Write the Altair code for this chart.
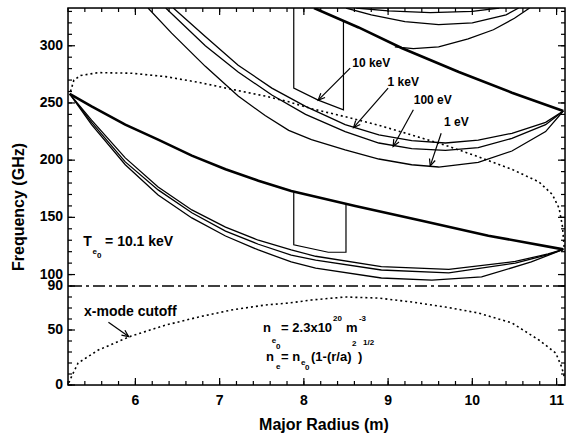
import math
import altair as alt
import pandas as pd

# ---------------- values ----------------
# cold resonance, 1st harmonic (thick)
h1_R = [5.22, 5.48, 5.88, 6.27, 6.67, 7.07, 7.46, 7.85, 8.61, 9.40, 10.19, 11.08]
h1_f = [258, 247, 231, 218, 204, 192, 182, 173, 160, 147, 134, 122]
# cold resonance, 2nd harmonic (thick)
h2_R = [8.12, 8.65, 9.16, 9.84, 10.47, 11.08]
h2_f = [333, 316, 298, 277, 259, 243]

# 1st-harmonic group, thin curves
g1_R = [5.22, 5.48, 5.88, 6.27, 6.67, 7.07, 7.46, 7.85, 8.14, 8.92, 9.72, 10.51, 10.90, 11.08]
g1a_f = [258, 235, 202, 176.5, 156.5, 141.5, 130, 121.5, 116, 107, 104.5, 111.5, 118, 122]
g1b_f = [258, 233, 198.5, 174, 154, 138, 126.5, 117, 112.7, 104, 101.5, 110, 117.5, 122]
g1c_R = [5.22, 5.48, 5.88, 6.27, 6.67, 7.07, 7.46, 7.85, 8.14, 8.92, 9.52, 10.11, 10.70, 11.08]
g1c_f = [258, 231, 196, 169.5, 149.5, 133.7, 121.5, 111, 105.7, 97, 95.2, 97.9, 111, 122]

# 2nd-harmonic group, thin curves (1 keV, 100 eV, 1 eV)
c3_R = [6.45, 6.83, 7.22, 7.62, 8.02, 8.49, 8.89, 9.28, 9.68, 10.07, 10.47, 10.87, 11.08]
c3_f = [333, 308, 283, 263, 247, 231, 222, 217, 215, 217.5, 223.5, 233, 243]
c2_R = [6.36, 6.83, 7.22, 7.62, 8.02, 8.49, 8.89, 9.28, 9.68, 10.07, 10.47, 10.87, 11.08]
c2_f = [333, 300, 277, 257, 240, 225, 215, 210, 208.5, 211, 219, 231, 243]
c1_R = [6.15, 6.43, 6.83, 7.22, 7.54, 7.82, 8.09, 8.49, 8.89, 9.28, 9.60, 10.07, 10.47, 10.87, 11.08]
c1_f = [333, 311, 282, 256, 239, 226, 218, 209, 201, 196, 194, 198, 208, 225, 243]

# 3rd-harmonic arcs at the top
a1_R = [8.62, 9.0, 9.5, 10.0, 10.32]
a1_f = [333, 330.5, 329, 330, 333]
a2_R = [8.50, 8.8, 9.2, 9.6, 10.0, 10.4, 10.55]
a2_f = [333, 327, 321, 318.5, 320, 327, 333]
a3_R = [9.08, 9.3, 9.6, 9.95, 10.25, 10.5, 10.68]
a3_f = [299, 297.5, 299, 306, 314, 324, 333]

# 10 keV boxes
b2_R = [7.88, 7.88, 8.17, 8.47, 8.47]
b2_f = [333, 263, 252.5, 244, 321]
b1_R = [7.88, 7.88, 8.29, 8.50, 8.50]
b1_f = [172, 126, 119.5, 119.5, 162]

# dotted cut-off curves
rc_R = [5.23, 5.27, 5.35, 5.56, 5.95, 6.36, 6.75, 7.14, 7.54, 7.82, 8.09, 8.49, 8.89,
        9.28, 9.68, 10.07, 10.47, 10.79, 10.95, 11.03, 11.07, 11.09]
rc_f = [260, 270, 274, 276.5, 276, 273, 268, 262, 256, 251, 245, 238, 230.5,
        222, 213, 203, 192, 181, 170, 158, 142, 124]
xc_R = [5.21, 5.25, 5.32, 5.56, 5.95, 6.36, 6.75, 7.14, 7.54, 7.82, 8.09, 8.49, 8.89,
        9.28, 9.68, 10.07, 10.47, 10.79, 10.99, 11.06, 11.1]
xc_f = [2, 9, 20, 31.8, 44.5, 54.5, 61.8, 68.2, 72.7, 74.5, 77.3, 80, 79,
        75.5, 70.9, 65.5, 56.4, 40.9, 29.1, 16.4, 5]

break_f = [90]

# labels with arrows
lab_text = ["10 keV", "1 keV", "100 eV", "1 eV"]
lab_R = [8.80, 9.18, 9.53, 9.81]
lab_f = [285, 268, 252.5, 233]
arr_R0 = [8.55, 9.00, 9.30, 9.63, 5.68]
arr_f0 = [280.5, 263, 244, 223.5, 57]
arr_R1 = [8.17, 8.59, 9.06, 9.50, 5.92]
arr_f1 = [252.5, 228.5, 212, 195, 44]

# text blocks
txt_text = ["T", "= 10.1 keV", "x-mode cutoff"]
txt_R = [5.38, 5.64, 5.39]
txt_f = [128.5, 128.5, 66.4]
eq_text = ["n", "= 2.3x10", "m", "n", "= n", "(1-(r/a)", ")"]
eq_R = [7.515, 7.73, 8.50, 7.55, 7.73, 8.085, 8.643]
eq_f = [51.8, 51.8, 51.8, 25.5, 25.5, 25.5, 25.5]
sub_text = ["e", "0", "e", "0", "20", "-3", "e", "e", "0", "2", "1/2"]
sub_R = [5.49, 5.545, 7.62, 7.67, 8.346, 8.654, 7.67, 7.966, 8.013, 8.571, 8.702]
sub_f = [120, 116, 40, 34.5, 60, 60, 16.4, 20, 15.5, 37, 38]

# axes
x_major = [6, 7, 8, 9, 10, 11]
x_labels = ["6", "7", "8", "9", "10", "11"]
x_minor = [round(5.2 + 0.2 * k, 1) for k in range(30)]
y_major = [0, 50, 90, 100, 150, 200, 250, 300]
y_labels = ["0", "50", "90", "100", "150", "200", "250", "300"]
y_minor = list(range(0, 331, 10))
x_title = "Major Radius (m)"
y_title = "Frequency (GHz)"

# ---------------- chart ----------------
W, H = 497, 377
Y90 = 278
FONT = "Liberation Sans"
xscale = alt.Scale(domain=[5.2, 11.1], nice=False, zero=False)
yscale = alt.Scale(domain=[0, 90, 333], range=[H, Y90, 0], nice=False, zero=False)


def X(field="R"):
    return alt.X(f"{field}:Q", scale=xscale, axis=None)


def Y(field="f"):
    return alt.Y(f"{field}:Q", scale=yscale, axis=None)


def series(name, R, f):
    return pd.DataFrame({"series": name, "R": R, "f": f, "i": range(len(R))})


thick_df = pd.concat([series("h1", h1_R, h1_f), series("h2", h2_R, h2_f)])
thin_df = pd.concat([
    series("g1a", g1_R, g1a_f), series("g1b", g1_R, g1b_f), series("g1c", g1c_R, g1c_f),
    series("c3", c3_R, c3_f), series("c2", c2_R, c2_f), series("c1", c1_R, c1_f),
    series("a1", a1_R, a1_f), series("a2", a2_R, a2_f), series("a3", a3_R, a3_f),
])
box_df = pd.concat([series("b1", b1_R, b1_f), series("b2", b2_R, b2_f)])
dot_df = pd.concat([series("rc", rc_R, rc_f), series("xc", xc_R, xc_f)])


def lines(df, width, dash=None):
    kw = dict(color="black", strokeWidth=width, clip=True)
    if dash:
        kw["strokeDash"] = dash
    return alt.Chart(df).mark_line(**kw).encode(
        x=X(), y=Y(), detail="series:N", order="i:Q")


# frame
frame = alt.Chart(pd.DataFrame({"k": [0]})).mark_rect(
    fillOpacity=0, stroke="black", strokeWidth=1.5).encode(
    x=alt.value(0), x2=alt.value(W), y=alt.value(0), y2=alt.value(H))


# inward tick marks, positioned through the scales
def yticks(values, length, right=False):
    df = pd.DataFrame({"v": values})
    xa, xb = (W - length, W) if right else (0, length)
    return alt.Chart(df).mark_rule(color="black", strokeWidth=1.2).encode(
        y=Y("v"), x=alt.value(xa), x2=alt.value(xb))


def xticks(values, length, top=False):
    df = pd.DataFrame({"v": values})
    ya, yb = (0, length) if top else (H - length, H)
    return alt.Chart(df).mark_rule(color="black", strokeWidth=1.2).encode(
        x=X("v"), y=alt.value(ya), y2=alt.value(yb))


tick_layers = [
    yticks(y_major, 7), yticks(y_minor, 4), yticks(y_major, 7, True), yticks(y_minor, 4, True),
    xticks(x_major, 7), xticks(x_minor, 4), xticks(x_major, 7, True), xticks(x_minor, 4, True),
]

# tick labels and axis titles
ylab = alt.Chart(pd.DataFrame({"v": y_major, "t": y_labels})).mark_text(
    font=FONT, fontSize=14, fontWeight="bold", color="black", align="right",
    baseline="middle").encode(y=Y("v"), x=alt.value(-5), text="t:N")
xlab = alt.Chart(pd.DataFrame({"v": x_major, "t": x_labels})).mark_text(
    font=FONT, fontSize=14, fontWeight="bold", color="black", align="center",
    baseline="middle").encode(x=X("v"), y=alt.value(H + 16), text="t:N")
ytitle = alt.Chart(pd.DataFrame({"t": [y_title]})).mark_text(
    font=FONT, fontSize=16, fontWeight="bold", color="black", align="center",
    baseline="middle", angle=270).encode(x=alt.value(-49), y=alt.value(199), text="t:N")
xtitle = alt.Chart(pd.DataFrame({"t": [x_title]})).mark_text(
    font=FONT, fontSize=16, fontWeight="bold", color="black", align="center",
    baseline="middle").encode(x=alt.value(256), y=alt.value(H + 40), text="t:N")

rule = alt.Chart(pd.DataFrame({"f": break_f})).mark_rule(
    color="black", strokeWidth=1.5, strokeDash=[12, 4, 3, 4]).encode(y=Y())

# arrows
kx = W / (11.1 - 5.2)


def ky(f):
    return Y90 / (333 - 90) if f >= 90 else (H - Y90) / 90


angles = []
for r0, f0, r1, f1 in zip(arr_R0, arr_f0, arr_R1, arr_f1):
    dx = (r1 - r0) * kx
    dy = -(f1 - f0) * ky(f1)
    angles.append(math.degrees(math.atan2(dx, -dy)) % 360)
arr_df = pd.DataFrame({"R0": arr_R0, "f0": arr_f0, "R1": arr_R1, "f1": arr_f1, "ang": angles})
shafts = alt.Chart(arr_df).mark_rule(color="black", strokeWidth=1.2).encode(
    x=X("R0"), y=Y("f0"), x2="R1:Q", y2="f1:Q")
heads = alt.Chart(arr_df).mark_point(
    shape="M -0.45 1 L 0 0 L 0.45 1", filled=False, color="black", opacity=1,
    strokeWidth=1.2, size=180).encode(
    x=X("R1"), y=Y("f1"), angle=alt.Angle("ang:Q", scale=None))


def text_layer(R, f, t, size, align="left"):
    df = pd.DataFrame({"t": t, "R": R, "f": f})
    return alt.Chart(df).mark_text(font=FONT, fontSize=size, fontWeight="bold",
                                   color="black", align=align, baseline="middle").encode(
        x=X(), y=Y(), text="t:N")


labels = text_layer(lab_R, lab_f, lab_text, 12, "center")
texts = text_layer(txt_R, txt_f, txt_text, 14)
eqs = text_layer(eq_R, eq_f, eq_text, 13)
subs = text_layer(sub_R, sub_f, sub_text, 8)

chart = alt.layer(
    lines(thick_df, 2.6),
    lines(dot_df, 1.6, [2, 3]),
    rule,
    lines(thin_df, 1.3),
    lines(box_df, 1.2),
    shafts, heads, labels, texts, eqs, subs,
    *tick_layers,
    ylab, xlab, ytitle, xtitle, frame,
).properties(
    width=W, height=H,
    autosize=alt.AutoSizeParams(type="none"),
    padding={"left": 68, "top": 8, "right": 6, "bottom": 54},
).configure_view(stroke="black", strokeWidth=1.5).configure(background="white")

chart.save("out.html", embed_options={"renderer": "svg", "actions": False})
